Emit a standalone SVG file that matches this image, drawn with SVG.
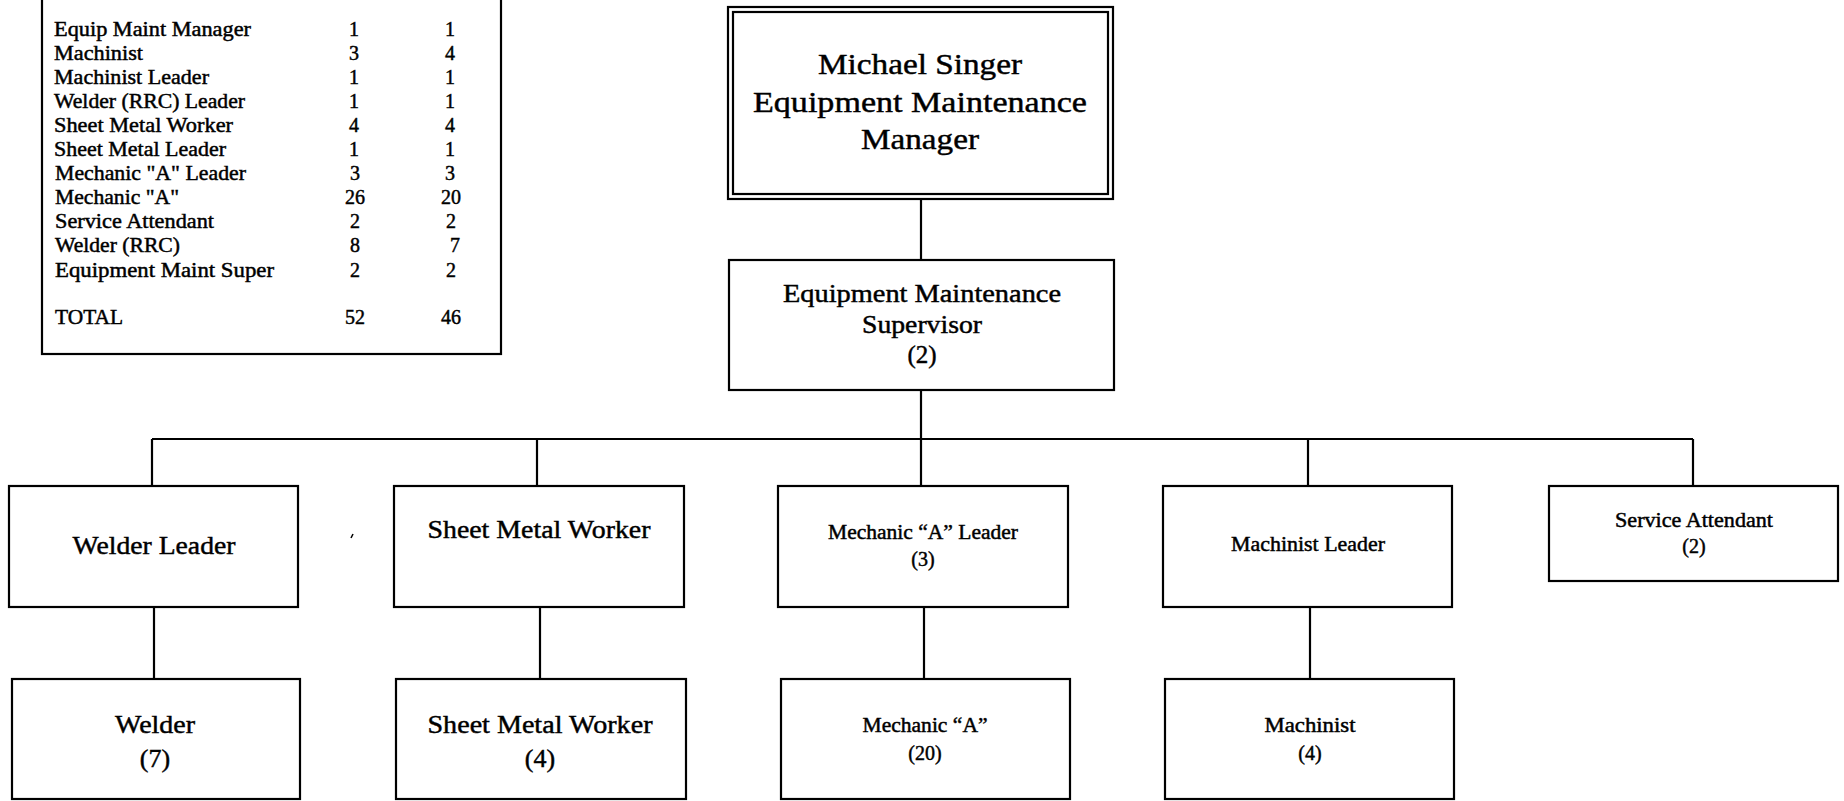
<svg xmlns="http://www.w3.org/2000/svg" width="1844" height="801" viewBox="0 0 1844 801">
<style>
text{font-family:"Liberation Serif","Times New Roman",serif;fill:#000;stroke:#000;stroke-width:0.45}
.box{fill:#fff;stroke:#000;stroke-width:2.2}
.line{stroke:#000;stroke-width:2.2;fill:none}
.t{font-size:20px}
.n{font-size:20px;text-anchor:middle}
.c{text-anchor:middle}
.big{font-size:30px}
.sup{font-size:25px}
.l{font-size:26px}
.s{font-size:20px}
</style>
<rect width="1844" height="801" fill="#fff"/>
<g id="legend">
<rect class="box" x="42" y="-10" width="459" height="364"/>
<text class="t" x="54" y="36" textLength="197" lengthAdjust="spacingAndGlyphs">Equip Maint Manager</text>
<text class="t" x="54" y="60" textLength="89" lengthAdjust="spacingAndGlyphs">Machinist</text>
<text class="t" x="54" y="84" textLength="155" lengthAdjust="spacingAndGlyphs">Machinist Leader</text>
<text class="t" x="54" y="108" textLength="191" lengthAdjust="spacingAndGlyphs">Welder (RRC) Leader</text>
<text class="t" x="54" y="132" textLength="179" lengthAdjust="spacingAndGlyphs">Sheet Metal Worker</text>
<text class="t" x="54" y="156" textLength="172" lengthAdjust="spacingAndGlyphs">Sheet Metal Leader</text>
<text class="t" x="55" y="180" textLength="191" lengthAdjust="spacingAndGlyphs">Mechanic "A" Leader</text>
<text class="t" x="55" y="204" textLength="124" lengthAdjust="spacingAndGlyphs">Mechanic "A"</text>
<text class="t" x="55" y="228" textLength="159" lengthAdjust="spacingAndGlyphs">Service Attendant</text>
<text class="t" x="55" y="252" textLength="125" lengthAdjust="spacingAndGlyphs">Welder (RRC)</text>
<text class="t" x="55" y="277" textLength="219" lengthAdjust="spacingAndGlyphs">Equipment Maint Super</text>
<text class="t" x="55" y="324" textLength="68" lengthAdjust="spacingAndGlyphs">TOTAL</text>
<text class="n" x="354" y="36">1</text><text class="n" x="450" y="36">1</text>
<text class="n" x="354" y="60">3</text><text class="n" x="450" y="60">4</text>
<text class="n" x="354" y="84">1</text><text class="n" x="450" y="84">1</text>
<text class="n" x="354" y="108">1</text><text class="n" x="450" y="108">1</text>
<text class="n" x="354" y="132">4</text><text class="n" x="450" y="132">4</text>
<text class="n" x="354" y="156">1</text><text class="n" x="450" y="156">1</text>
<text class="n" x="355" y="180">3</text><text class="n" x="450" y="180">3</text>
<text class="n" x="355" y="204">26</text><text class="n" x="451" y="204">20</text>
<text class="n" x="355" y="228">2</text><text class="n" x="451" y="228">2</text>
<text class="n" x="355" y="252">8</text><text class="n" x="455" y="252">7</text>
<text class="n" x="355" y="277">2</text><text class="n" x="451" y="277">2</text>
<text class="n" x="355" y="324">52</text><text class="n" x="451" y="324">46</text>
</g>
<g id="connectors">
<line class="line" x1="921" y1="199" x2="921" y2="260"/>
<line class="line" x1="921" y1="390" x2="921" y2="439"/>
<line class="line" x1="152" y1="439" x2="1693" y2="439"/>
<line class="line" x1="152" y1="439" x2="152" y2="486"/>
<line class="line" x1="537" y1="439" x2="537" y2="486"/>
<line class="line" x1="921" y1="439" x2="921" y2="486"/>
<line class="line" x1="1308" y1="439" x2="1308" y2="486"/>
<line class="line" x1="1693" y1="439" x2="1693" y2="486"/>
<line class="line" x1="154" y1="607" x2="154" y2="679"/>
<line class="line" x1="540" y1="607" x2="540" y2="679"/>
<line class="line" x1="924" y1="607" x2="924" y2="679"/>
<line class="line" x1="1310" y1="607" x2="1310" y2="679"/>
</g>
<g id="manager">
<rect class="box" x="728" y="7" width="385" height="192" stroke-width="2.6"/>
<rect class="box" x="733" y="12" width="375" height="182"/>
<text class="big c" x="920" y="74" textLength="204" lengthAdjust="spacingAndGlyphs">Michael Singer</text>
<text class="big c" x="920" y="112" textLength="334" lengthAdjust="spacingAndGlyphs">Equipment Maintenance</text>
<text class="big c" x="920" y="149" textLength="118" lengthAdjust="spacingAndGlyphs">Manager</text>
</g>
<g id="supervisor">
<rect class="box" x="729" y="260" width="385" height="130"/>
<text class="sup c" x="922" y="302" textLength="278" lengthAdjust="spacingAndGlyphs">Equipment Maintenance</text>
<text class="sup c" x="922" y="333" textLength="120" lengthAdjust="spacingAndGlyphs">Supervisor</text>
<text class="sup c" x="922" y="363">(2)</text>
</g>
<g id="welder-leader">
<rect class="box" x="9" y="486" width="289" height="121"/>
<text class="l c" x="154" y="554" textLength="163" lengthAdjust="spacingAndGlyphs">Welder Leader</text>
</g>
<g id="sheet-metal-leader">
<rect class="box" x="394" y="486" width="290" height="121"/>
<text class="l c" x="539" y="538" textLength="223" lengthAdjust="spacingAndGlyphs">Sheet Metal Worker</text>
</g>
<g id="mechanic-leader">
<rect class="box" x="778" y="486" width="290" height="121"/>
<text class="s c" x="923" y="539" textLength="190" lengthAdjust="spacingAndGlyphs">Mechanic “A” Leader</text>
<text class="s c" x="923" y="566">(3)</text>
</g>
<g id="machinist-leader">
<rect class="box" x="1163" y="486" width="289" height="121"/>
<text class="s c" x="1308" y="551" textLength="154" lengthAdjust="spacingAndGlyphs">Machinist Leader</text>
</g>
<g id="service-attendant">
<rect class="box" x="1549" y="486" width="289" height="95"/>
<text class="s c" x="1694" y="527" textLength="158" lengthAdjust="spacingAndGlyphs">Service Attendant</text>
<text class="s c" x="1694" y="553">(2)</text>
</g>
<g id="welder">
<rect class="box" x="12" y="679" width="288" height="120"/>
<text class="l c" x="155" y="733" textLength="80" lengthAdjust="spacingAndGlyphs">Welder</text>
<text class="l c" x="155" y="767">(7)</text>
</g>
<g id="sheet-metal-worker">
<rect class="box" x="396" y="679" width="290" height="120"/>
<text class="l c" x="540" y="733" textLength="225" lengthAdjust="spacingAndGlyphs">Sheet Metal Worker</text>
<text class="l c" x="540" y="767">(4)</text>
</g>
<g id="mechanic">
<rect class="box" x="781" y="679" width="289" height="120"/>
<text class="s c" x="925" y="732" textLength="125" lengthAdjust="spacingAndGlyphs">Mechanic “A”</text>
<text class="s c" x="925" y="760">(20)</text>
</g>
<g id="machinist">
<rect class="box" x="1165" y="679" width="289" height="120"/>
<text class="s c" x="1310" y="732" textLength="91" lengthAdjust="spacingAndGlyphs">Machinist</text>
<text class="s c" x="1310" y="760">(4)</text>
</g>
<path d="M351 538 L353 534" stroke="#000" stroke-width="1.5"/>
</svg>
